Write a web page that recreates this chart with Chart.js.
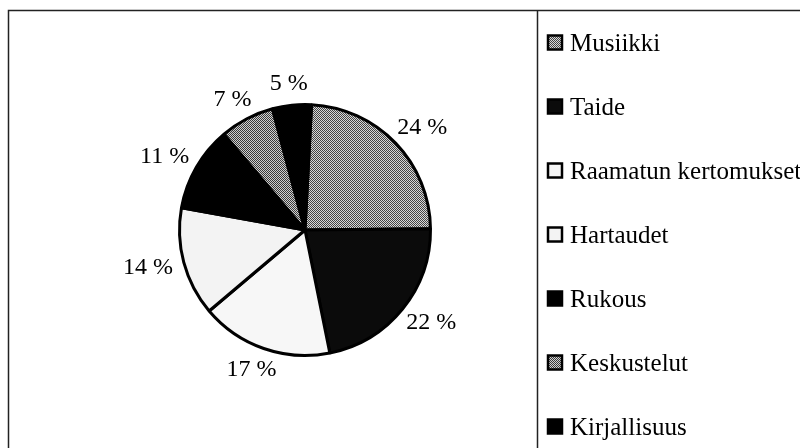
<!DOCTYPE html>
<html>
<head>
<meta charset="utf-8">
<script src="https://cdn.jsdelivr.net/npm/chart.js@4/dist/chart.umd.min.js"></script>
<style>
  html, body { margin: 0; padding: 0; background: #fff; }
  #wrap { width: 800px; height: 448px; position: relative; }
</style>
</head>
<body>
<div id="wrap"><canvas id="pieChart" width="800" height="448"></canvas></div>
<script>
const labels = ['Musiikki', 'Taide', 'Raamatun kertomukset', 'Hartaudet', 'Rukous', 'Keskustelut', 'Kirjallisuus'];
const values = [24, 22, 17, 14, 11, 7, 5];

const serif = '"Liberation Serif", "Times New Roman", serif';

// 2x2 checker to imitate the dithered grey of the print
function checker(a, b) {
    const c = document.createElement('canvas');
    c.width = 2; c.height = 2;
    const g = c.getContext('2d');
    g.fillStyle = a; g.fillRect(0, 0, 2, 2);
    g.fillStyle = b; g.fillRect(0, 0, 1, 1); g.fillRect(1, 1, 1, 1);
    return g.createPattern(c, 'repeat');
}

const fills = [
    checker('#d8d8d8', '#444444'),
    '#0b0b0b',
    '#f7f7f7',
    '#f3f3f3',
    '#000000',
    checker('#d0d0d0', '#3a3a3a'),
    '#000000'
];

// frame lines around the chart and between pie and legend
const framePlugin = {
    id: 'frame',
    beforeDraw(chart) {
        const ctx = chart.ctx;
        ctx.save();
        ctx.fillStyle = '#fff';
        ctx.fillRect(0, 0, chart.width, chart.height);
        ctx.strokeStyle = '#222';
        ctx.lineWidth = 1.5;
        ctx.beginPath();
        ctx.moveTo(8.5, 448); ctx.lineTo(8.5, 10.5); ctx.lineTo(800, 10.5);
        ctx.moveTo(537.5, 10.5); ctx.lineTo(537.5, 448);
        ctx.stroke();
        ctx.restore();
    }
};

// percentage labels outside each slice
const outLabels = {
    id: 'outLabels',
    afterDatasetsDraw(chart) {
        const ctx = chart.ctx;
        const meta = chart.getDatasetMeta(0);
        const data = chart.data.datasets[0].data;
        const total = data.reduce((s, v) => s + v, 0);
        ctx.save();
        ctx.font = '24px ' + serif;
        ctx.fillStyle = '#000';
        ctx.textAlign = 'center';
        ctx.textBaseline = 'middle';
        meta.data.forEach((arc, i) => {
            const p = arc.getProps(['x', 'y', 'startAngle', 'endAngle', 'outerRadius'], true);
            const mid = (p.startAngle + p.endAngle) / 2;
            const dx = Math.cos(mid), dy = Math.sin(mid);
            const txt = Math.round(data[i] / total * 100) + ' %';
            const w = ctx.measureText(txt).width;
            const r = p.outerRadius + 12;
            const x = p.x + r * dx + (w / 2) * dx;
            const y = p.y + r * dy + 10 * dy;
            ctx.fillText(txt, x, y);
        });
        ctx.restore();
    }
};

// legend on the right, one row per category
const sideLegend = {
    id: 'sideLegend',
    afterDraw(chart) {
        const ctx = chart.ctx;
        const bg = chart.data.datasets[0].backgroundColor;
        ctx.save();
        ctx.font = '25px ' + serif;
        ctx.textBaseline = 'middle';
        chart.data.labels.forEach((lab, i) => {
            const y = 43 + i * 64;
            ctx.fillStyle = bg[i];
            ctx.fillRect(548, y - 7.5, 14, 14);
            ctx.strokeStyle = '#000';
            ctx.lineWidth = 2.5;
            ctx.strokeRect(548, y - 7.5, 14, 14);
            ctx.fillStyle = '#000';
            ctx.fillText(lab, 570, y + 1);
        });
        ctx.restore();
    }
};

new Chart(document.getElementById('pieChart'), {
    type: 'pie',
    data: {
        labels,
        datasets: [{
            data: values,
            backgroundColor: fills,
            borderColor: '#000',
            borderWidth: 3,
            borderAlign: 'center'
        }]
    },
    options: {
        responsive: false,
        animation: false,
        rotation: 3,
        layout: { padding: { left: 178, right: 368, top: 103, bottom: 91 } },
        plugins: {
            legend: { display: false },
            tooltip: { enabled: false }
        }
    },
    plugins: [framePlugin, outLabels, sideLegend]
});
</script>
</body>
</html>
